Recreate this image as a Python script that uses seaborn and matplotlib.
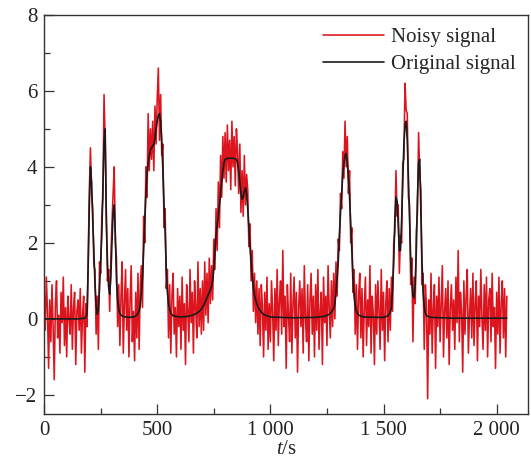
import numpy as np
import matplotlib
matplotlib.use("Agg")
import matplotlib.pyplot as plt
from matplotlib.ticker import MultipleLocator, FuncFormatter
import seaborn as sns

# ---------------------------------------------------------
# dados
# ---------------------------------------------------------
# sinal ruidoso, amostrado a cada 5 s (0 ... 2045 s)
t_noisy = np.arange(0, 2050, 5)
noisy = [
    0.8, -0.3, 1.1, 0.2, -1.3, 0.5, -0.6, 0.9, -0.2, -1.6, 0.4, 1.0, -0.5, 0.1, -0.9, 0.7, -0.1, 1.1, -0.7, 0.3,
    -1.0, 0.6, 0.0, -0.4, 0.9, -0.8, 0.3, 0.7, -1.2, 0.2, 0.5, -0.3, 0.8, -0.9, 0.1, 0.6, -1.4, 0.4, -0.2, 1.6,
    3.4, 4.5, 3.3, 2.9, 1.4, 1.3, -0.4, 0.6, -0.8, 1.5, 1.2, 2.7, 3.2, 5.9, 4.7, 2.9, 1.0, 1.3, 0.2, 1.6,
    2.5, 3.3, 4.0, 2.0, 1.6, -0.2, 0.9, -0.7, 0.6, 1.5, -0.9, 0.4, 1.3, -0.3, 0.8, -1.0, 0.5, 1.4, -0.6, 0.2,
    -1.1, 0.7, -0.5, 1.2, -0.8, 0.9, 1.4, 0.3, 2.7, 2.0, 4.0, 3.2, 5.4, 3.9, 5.0, 4.2, 5.2, 3.9, 5.6, 4.6,
    5.8, 6.6, 4.7, 5.9, 4.3, 4.6, 2.4, 2.9, 0.8, 1.3, -0.5, 0.9, -0.9, 0.6, 1.2, -0.4, 0.3, -1.0, 0.8, -0.2,
    0.6, -0.8, 1.1, -0.3, 0.4, -1.2, 0.9, 0.2, -0.6, 1.3, -0.1, 0.7, -0.9, 1.0, 0.3, -0.5, 1.5, -0.2, 0.8, -0.4,
    1.0, -0.3, 1.5, 0.1, 1.2, -0.1, 1.6, 0.4, 1.4, 0.5, 2.1, 1.3, 2.9, 1.8, 3.6, 2.4, 4.3, 3.2, 4.8, 3.7,
    4.9, 3.6, 5.1, 3.9, 4.7, 3.4, 5.2, 4.0, 4.8, 3.5, 5.0, 4.4, 3.3, 4.6, 2.8, 3.9, 2.7, 4.3, 3.0, 3.8,
    3.4, 1.9, 2.5, 1.0, 1.8, 0.2, 1.2, -0.1, 1.0, -0.4, 0.8, -0.7, 0.9, 0.3, -1.0, 0.7, -0.3, 1.1, -0.8, 0.4,
    -0.6, 1.0, 0.2, -1.1, 0.8, -0.3, 1.3, -0.7, 0.5, 1.0, -0.4, 1.8, -0.2, 0.6, -1.3, 0.9, 0.1, -0.6, 1.2, -0.9,
    0.4, 1.1, -0.5, 0.7, -1.4, 0.3, 1.0, -0.2, 0.8, -0.9, 1.4, 0.0, -0.6, 0.9, -1.1, 0.5, 1.2, -0.4, 0.6, -1.0,
    0.9, -0.3, 1.3, -0.8, 0.2, 0.7, -1.2, 1.1, -0.1, 0.6, -0.7, 1.4, 0.3, -0.5, 1.0, -0.2, 1.2, 0.0, 1.5, 0.6,
    2.1, 1.8, 3.3, 2.9, 4.4, 3.7, 5.2, 4.0, 4.8, 3.3, 3.9, 2.0, 2.4, 0.7, 1.3, -0.4, 0.9, -0.8, 0.6, 1.2,
    -0.5, 0.8, -1.0, 0.3, 1.1, -0.7, 0.5, -0.2, 1.4, -0.9, 0.6, 0.1, -1.2, 0.9, -0.4, 1.0, 0.2, -0.8, 1.3, -0.3,
    0.7, -1.1, 0.4, 1.0, -0.6, 0.8, -0.3, 1.1, 0.2, 2.0, 2.3, 3.9, 2.7, 3.0, 1.2, 2.2, 2.0, 4.1, 4.2, 6.2,
    5.5, 5.4, 3.2, 3.0, 0.9, 1.6, -0.6, 1.1, 0.4, 2.3, 2.8, 4.9, 3.8, 3.4, 0.9, 1.2, -0.8, 0.9, 0.3, -2.1,
    0.5, -0.4, 1.2, -0.9, 0.3, 0.9, -1.3, 0.6, -0.2, 1.1, -0.6, 0.4, 1.4, -1.0, 0.2, 0.8, -0.5, 1.0, -1.2, 0.3,
    0.9, -0.3, 0.5, -0.8, 1.1, -0.1, 1.8, -0.6, 0.7, 0.2, -1.4, 1.0, -0.4, 0.6, 1.3, -0.9, 0.1, 0.8, -0.5, 1.2,
    -0.7, 0.4, 1.0, -1.1, 0.6, -0.2, 1.3, 0.0, -0.8, 0.9, -0.3, 1.1, -1.0, 0.5, 0.8, -0.6, 1.2, -0.2, 0.3, -1.3,
    0.7, -0.4, 1.1, -0.9, 0.4, 1.0, -0.5, 0.8, -1.0, 0.6,
]

orig_t = [0, 150, 180, 185, 190, 195, 200, 205, 210, 215, 220, 225, 230, 235, 240, 245, 250, 255, 260, 265,
          270, 275, 280, 285, 290, 295, 300, 305, 310, 315, 320, 325, 330, 335, 340, 350, 380, 400, 410, 415,
          420, 425, 430, 435, 440, 445, 450, 455, 460, 465, 470, 475, 480, 485, 490, 495, 500, 505, 510, 515,
          520, 525, 530, 535, 540, 545, 550, 555, 560, 570, 600, 640, 670, 690, 700, 710, 720, 730, 740, 745,
          750, 755, 760, 765, 770, 775, 780, 785, 790, 795, 800, 810, 820, 830, 840, 850, 855, 860, 865, 870,
          875, 880, 885, 890, 895, 900, 905, 910, 915, 920, 925, 930, 935, 940, 945, 950, 960, 970, 985, 1000,
          1100, 1200, 1240, 1260, 1270, 1280, 1285, 1290, 1295, 1300, 1305, 1310, 1315, 1320, 1325, 1330, 1335,
          1340, 1345, 1350, 1355, 1360, 1365, 1370, 1375, 1380, 1390, 1410, 1500, 1520, 1530, 1535, 1540, 1545,
          1550, 1555, 1560, 1565, 1570, 1575, 1580, 1585, 1590, 1595, 1600, 1605, 1610, 1615, 1620, 1625, 1630,
          1635, 1640, 1645, 1650, 1655, 1660, 1665, 1670, 1675, 1680, 1685, 1690, 1710, 1800, 2045]
orig_y = [0.0, 0.0, 0.02, 0.05, 0.15, 1.4, 3.0, 4.0, 3.6, 2.6, 1.8, 0.9, 0.35, 0.12, 0.25, 0.8, 1.5, 2.2, 3.5, 4.7,
          5.0, 2.6, 1.5, 0.85, 0.65, 1.1, 2.0, 2.8, 3.0, 2.2, 1.0, 0.5, 0.25, 0.15, 0.1, 0.06, 0.04, 0.06, 0.1, 0.15,
          0.22, 0.35, 0.7, 1.1, 1.8, 2.6, 3.3, 3.8, 4.1, 4.3, 4.45, 4.5, 4.55, 4.6, 4.75, 5.0, 5.2, 5.35, 5.4, 5.2,
          4.7, 3.9, 3.0, 2.3, 1.3, 0.7, 0.4, 0.25, 0.15, 0.08, 0.05, 0.07, 0.13, 0.22, 0.3, 0.42, 0.56, 0.7, 0.85, 1.0,
          1.3, 1.8, 2.2, 2.5, 2.7, 3.0, 3.3, 3.6, 3.9, 4.1, 4.2, 4.22, 4.23, 4.23, 4.22, 4.2, 4.1, 3.9, 3.6, 3.3,
          3.15, 3.2, 3.35, 3.45, 3.3, 2.9, 2.4, 1.9, 1.5, 1.1, 0.8, 0.62, 0.5, 0.4, 0.32, 0.26, 0.18, 0.12, 0.08, 0.05,
          0.03, 0.04, 0.07, 0.12, 0.18, 0.28, 0.4, 0.7, 1.1, 1.5, 2.2, 2.8, 3.3, 3.8, 4.1, 4.3, 4.35,
          4.1, 3.7, 3.2, 2.5, 1.8, 1.1, 0.6, 0.35, 0.2, 0.1, 0.05, 0.04, 0.08, 0.18, 0.3, 0.8, 1.5,
          2.6, 3.2, 3.1, 2.5, 1.8, 1.8, 2.6, 3.6, 4.6, 5.1, 5.2, 4.7, 3.7, 2.6, 1.6, 1.0, 0.6,
          0.55, 0.9, 1.8, 3.2, 4.1, 4.2, 2.8, 1.5, 0.7, 0.3, 0.15, 0.08, 0.04, 0.02, 0.02]

x_ticks = [0, 500, 1000, 1500, 2000]
y_ticks = [-2, 0, 2, 4, 6, 8]

# ---------------------------------------------------------
# estilo
# ---------------------------------------------------------
sns.set_theme(style="ticks")
plt.rcParams['font.family'] = ['Liberation Serif', 'DejaVu Serif']
plt.rcParams['mathtext.fontset'] = 'custom'
plt.rcParams['mathtext.it'] = 'Liberation Serif:italic'
plt.rcParams['mathtext.rm'] = 'Liberation Serif'

FS = 15

fig = plt.figure(figsize=(5.31, 4.62), dpi=100)
ax = fig.add_axes([0.083, 0.104, 0.912, 0.864])

sns.lineplot(x=t_noisy, y=noisy, ax=ax, color='#dc141e', linewidth=1.15, label='Noisy signal')
sns.lineplot(x=orig_t, y=orig_y, ax=ax, color='#1a1a1a', linewidth=1.2, label='Original signal')

ax.set_xlim(0, 2140)
ax.set_ylim(-2.5, 8)
ax.set_xticks(x_ticks)
ax.set_yticks(y_ticks)
ax.xaxis.set_minor_locator(MultipleLocator(250))
ax.yaxis.set_minor_locator(MultipleLocator(1))
ax.xaxis.set_major_formatter(FuncFormatter(lambda v, p: f"{int(v):,}".replace(',', ' ')))

ax.tick_params(which='both', direction='in', top=False, right=False, colors='#333333',
               labelcolor='#222222', labelsize=FS, width=0.9)
ax.tick_params(which='major', length=7, pad=5)
ax.tick_params(which='minor', length=4)
for s in ax.spines.values():
    s.set_color('#333333')
    s.set_linewidth(1.0)

ax.set_xlabel('$t$/s', fontsize=FS, labelpad=0, color='#222222')
ax.set_ylabel('')

ax.legend(loc='upper right', frameon=False, fontsize=FS, handlelength=2.95,
          handletextpad=0.34, labelspacing=0.38, borderaxespad=0.2, borderpad=0.4)

plt.savefig('out.png', dpi=100)
plt.close()
